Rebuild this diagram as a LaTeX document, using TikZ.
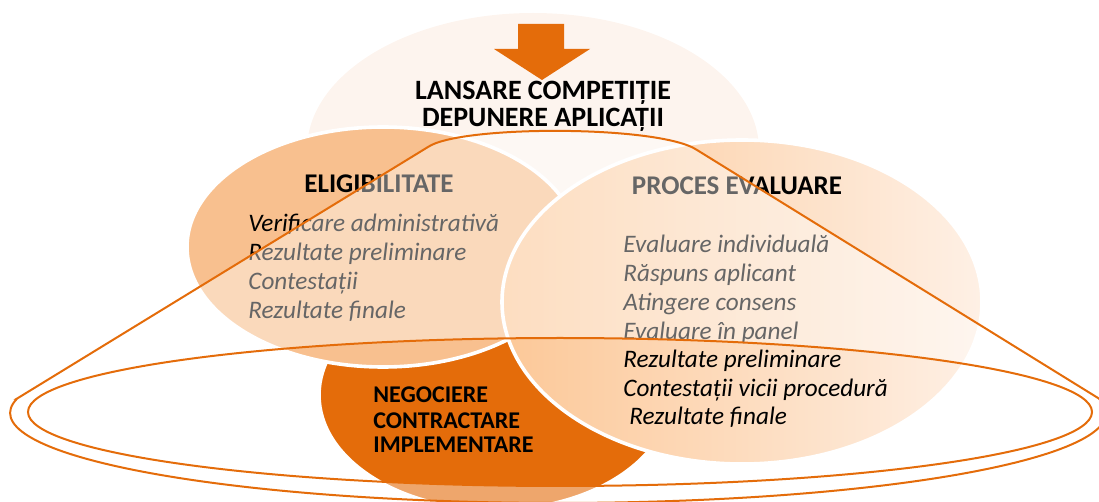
\documentclass[tikz,border=0pt]{standalone}
\usepackage{fontspec}
\setmainfont{Carlito}
\usepackage{xcolor}
\definecolor{burnt}{HTML}{E46C0A}
\definecolor{paleTop}{HTML}{FDF4EE}
\definecolor{peachLeft}{HTML}{F8C08F}
\definecolor{peachA}{HTML}{FCC898}
\definecolor{peachB}{HTML}{FDDCC1}
\definecolor{peachC}{HTML}{FEF0E5}

\begin{document}
\begin{tikzpicture}[x=0.5pt, y=-0.5pt,
  blob/.style={draw=white, line width=1.8pt},
  title/.style={font=\bfseries\fontsize{14}{14}\selectfont, inner sep=0pt, anchor=base},
  head/.style={font=\bfseries\fontsize{13.5}{13.5}\selectfont, inner sep=0pt, anchor=base},
  item/.style={font=\itshape\fontsize{12.6}{14}\selectfont, inner sep=0pt, anchor=base west},
  phase/.style={font=\bfseries\fontsize{12}{12}\selectfont, inner sep=0pt, anchor=base west},
  rim/.style={draw=burnt, line width=1pt}]
\useasboundingbox (0,0) rectangle (1099,502);

% Ellipses
\fill[paleTop] (533,150) ellipse [x radius=226, y radius=137];
\path[blob, fill=burnt] (495,395) ellipse [x radius=176, y radius=115];
\path[blob, fill=peachLeft] (383,247) ellipse [x radius=196, y radius=120];
\path[blob, left color=peachA, middle color=peachB, right color=peachC] (742,302) ellipse [x radius=240, y radius=162];

% Arrow
\fill[burnt] (518,24) -- (564,24) -- (564,49) -- (590,49) -- (542,80) -- (494,49) -- (518,49) -- cycle;

% Texts
\node[title] (launch) at (543,100) {LANSARE COMPETIȚIE};
\node[title] (submit) at (543,127) {DEPUNERE APLICAȚII};
\node[head] (elig) at (379,193) {ELIGIBILITATE};
\node[head] (eval) at (737,195) {PROCES EVALUARE};
\foreach \txt [count=\i] in {Verificare administrativă, Rezultate preliminare, Contestații, Rezultate finale}
  \node[item] (e\i) at (248,{232+28.7*(\i-1)}) {\txt};
\foreach \txt [count=\i] in {Evaluare individuală, Răspuns aplicant, Atingere consens, Evaluare în panel, Rezultate preliminare, Contestații vicii procedură}
  \node[item] (v\i) at (623,{253+28.7*(\i-1)}) {\txt};
\node[item] (v7) at (629,425) {Rezultate finale};
\node[phase] (neg) at (373,403) {NEGOCIERE};
\node[phase] (con) at (373,429) {CONTRACTARE};
\node[phase] (imp) at (373,453) {IMPLEMENTARE};

% Cone
\fill[white, fill opacity=0.4, even odd rule] (17,398.6) -- (428,147) .. controls (460,125) and (660,125) .. (697,150) -- (1099,398.6)
  arc[start angle=-9.2, end angle=189.2, x radius=548, y radius=90] -- cycle
  (560,412) ellipse [x radius=532, y radius=74];
\draw[rim] (17,398.6) -- (428,147) .. controls (460,125) and (660,125) .. (697,150) -- (1099,398.6)
  arc[start angle=-9.2, end angle=189.2, x radius=548, y radius=90] -- cycle;
\draw[rim] (560,412) ellipse [x radius=532, y radius=74];
\end{tikzpicture}
\end{document}
